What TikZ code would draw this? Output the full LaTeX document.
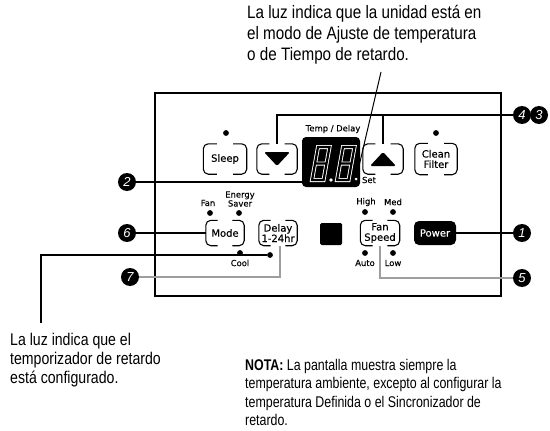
\documentclass[tikz,border=0pt]{standalone}
\usepackage{fontspec}
\setmainfont{Liberation Sans}
\newfontfamily\condtop[FakeStretch=0.845]{Liberation Sans}
\newfontfamily\condleft[FakeStretch=0.83]{Liberation Sans}
\newfontfamily\condnota[FakeStretch=0.80]{Liberation Sans}
\newfontfamily\panelf[FakeBold=0.3]{DejaVu Sans}
\usetikzlibrary{calc}
\definecolor{leadgray}{gray}{0.62}
\tikzset{
  ledlamp/.style={circle, fill=black, inner sep=0pt, minimum size=5.8pt},
  lbl/.style={font=\panelf\fontsize{8.4}{9}\selectfont, inner sep=0pt, align=center},
  btn/.style={font=\panelf\fontsize{10}{10.4}\selectfont, inner sep=0pt, align=center, minimum height=25pt},
  callout/.style={circle, fill=black, text=white, inner sep=0pt, minimum size=18pt, font=\itshape\fontsize{13}{13}\selectfont},
  leader/.style={line width=1.4pt},
  grayleader/.style={line width=1.2pt, draw=leadgray},
  brline/.style={line width=1.1pt, rounded corners=5pt},
  desc/.style={inner sep=0pt, align=left, anchor=north west},
}
\newcommand\bracketbox[1]{%
  \draw[brline] ($(#1.north west)!0.62!(#1.north)$) -| (#1.south west) -- ($(#1.south west)!0.62!(#1.south)$);
  \draw[brline] ($(#1.north east)!0.62!(#1.north)$) -| (#1.south east) -- ($(#1.south east)!0.62!(#1.south)$);
}
\newcommand\segdigit[1]{%
  \begin{scope}[shift={(#1)}, xslant=0.18]
    \draw[white, line width=0.9pt, double=black, double distance=2.2pt, line join=miter]
      (0,0) rectangle (11.5,33) (0,16.5) -- (11.5,16.5);
  \end{scope}}
\begin{document}
\begin{tikzpicture}[x=1pt,y=-1pt]
\useasboundingbox (0,0) rectangle (550,431);

% description texts
\node[desc, font=\condtop\fontsize{18}{21}\selectfont] (toptext) at (247,5)
  {La luz indica que la unidad está en\\el modo de Ajuste de temperatura\\o de Tiempo de retardo.};
\node[desc, font=\condleft\fontsize{17}{19}\selectfont] (lefttext) at (10,333)
  {La luz indica que el\\temporizador de retardo\\está configurado.};
\node[desc, font=\condnota\fontsize{15.5}{18.3}\selectfont] (nota) at (245,359)
  {\textbf{NOTA:} La pantalla muestra siempre la\\temperatura ambiente, excepto al configurar la\\temperatura Definida o el Sincronizador de\\retardo.};

% panel
\draw[line width=1.8pt] (155,93) rectangle (501,296);

% display
\node[fill=black, rounded corners=4pt, minimum width=58pt, minimum height=50pt, inner sep=0pt] (disp) at (331,162) {};
\segdigit{318,147}
\segdigit{343,147}
\node[circle, fill=white, minimum size=3.8pt, inner sep=0pt] (dp) at (331,180) {};
\node[circle, fill=white, minimum size=3pt, inner sep=0pt] (setdot) at (356,179) {};
\node[lbl] (templbl) at (333,129) {Temp / Delay};
\node[lbl] (setlbl) at (369,180) {Set};

% top row buttons
\node[btn, minimum width=43pt, minimum height=30pt] (sleep) at (225,159) {Sleep};
\node[btn, minimum width=40pt, minimum height=30pt] (down) at (277,159) {};
\node[btn, minimum width=40pt, minimum height=30pt] (up) at (383,159) {};
\node[btn, minimum width=42pt, minimum height=31pt] (clean) at (436,159) {Clean\\Filter};
\bracketbox{sleep}
\bracketbox{down}
\bracketbox{up}
\bracketbox{clean}
\fill[rounded corners=1.5pt] ($(down)+(-13,-7)$) -- ($(down)+(13,-7)$) -- ($(down)+(0,7)$) -- cycle;
\fill[rounded corners=1.5pt] ($(up)+(-13,7)$) -- ($(up)+(13,7)$) -- ($(up)+(0,-7)$) -- cycle;
\node[ledlamp] (sleepled) at (226,133) {};
\node[ledlamp] (cleanled) at (436,133) {};

% second row
\node[lbl] (fanlbl) at (208,203) {Fan};
\node[lbl] (eslbl) at (240,199) {Energy\\Saver};
\node[ledlamp] (fanled) at (210,213) {};
\node[ledlamp] (esled) at (239,213) {};
\node[btn, minimum width=38pt] (mode) at (225,233) {Mode};
\bracketbox{mode}
\node[ledlamp] (coolled) at (240,253) {};
\node[lbl] (coollbl) at (240,263) {Cool};
\node[btn, minimum width=38pt] (delay) at (278,233) {Delay\\1-24hr};
\bracketbox{delay}
\node[ledlamp] (delayled) at (270,255) {};
\node[fill=black, minimum size=22pt, rounded corners=1.5pt, inner sep=0pt] (sq) at (331,234) {};
\node[lbl] (highlbl) at (366,202) {High};
\node[lbl] (medlbl) at (393,202) {Med};
\node[ledlamp] (highled) at (365,212) {};
\node[ledlamp] (medled) at (393,212) {};
\node[btn, minimum width=39pt] (fanspeed) at (380,233) {Fan\\Speed};
\bracketbox{fanspeed}
\node[ledlamp] (autoled) at (365,253) {};
\node[ledlamp] (lowled) at (393,253) {};
\node[lbl] (autolbl) at (365,263) {Auto};
\node[lbl] (lowlbl) at (393,263) {Low};
\node[btn, fill=black, text=white, rounded corners=5pt, minimum width=42pt, minimum height=24pt] (power) at (435,233) {Power};

% callouts
\node[callout] (c1) at (522,233) {1};
\node[callout] (c2) at (127,182) {2};
\node[callout] (c3) at (539,115) {3};
\node[callout] (c4) at (522,115) {4};
\node[callout] (c5) at (522,278) {5};
\node[callout] (c6) at (127,233) {6};
\node[callout] (c7) at (130,277) {7};

% connectors
\draw[leader] (c1) -- (power);
\draw[leader] (c2) -- (c2 -| disp.west);
\draw[leader] (c4) -- (down.north |- c4) -- (down.north);
\draw[leader] (up.north |- c4) -- (up.north);
\draw[grayleader] (fanspeed.south) |- (c5);
\draw[leader] (c6) -- (mode);
\draw[grayleader] (c7) -| ($(delay.south)+(2,0)$);
\coordinate (leftend) at (41,323);
\draw[leader] (delayled) -| (leftend);
\coordinate (topend) at (381,72);
\draw[line width=1pt] (topend) -- (setdot);
\end{tikzpicture}
\end{document}
